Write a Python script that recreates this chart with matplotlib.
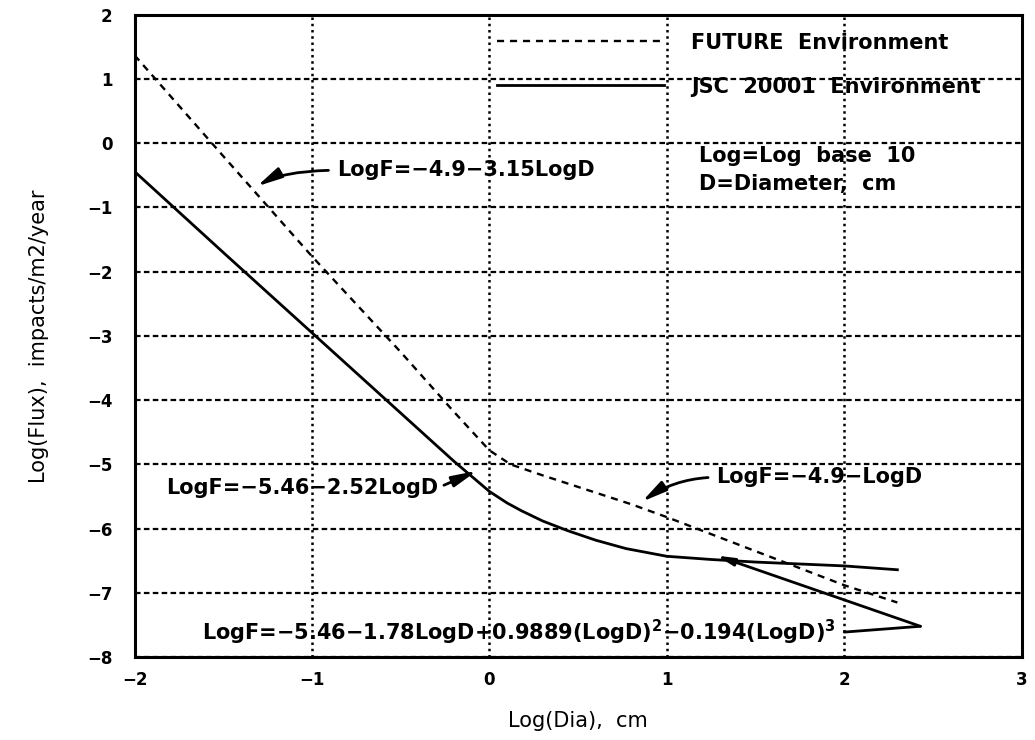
import matplotlib
matplotlib.use("Agg")
import matplotlib.pyplot as plt

plt.rcParams['font.family'] = ['DejaVu Sans']
plt.rcParams['mathtext.default'] = 'bf'

# ----- debris flux curves, log10 scale -----
dia_future = [-2.0, -1.5, -1.0, -0.5, -0.2, 0.0, 0.12, 0.3, 0.8, 1.0, 1.5, 2.0, 2.3]
flux_future = [1.37, -0.2, -1.76, -3.25, -4.18, -4.78, -5.0, -5.17, -5.62, -5.82, -6.35, -6.88, -7.15]

dia_jsc = [-2.0, -1.5, -1.0, -0.5, -0.2, 0.0, 0.1, 0.18, 0.3, 0.44, 0.6, 0.77, 1.0, 1.25, 1.5, 2.0, 2.3]
flux_jsc = [-0.44, -1.7, -2.95, -4.2, -4.95, -5.42, -5.6, -5.72, -5.88, -6.03, -6.18, -6.31, -6.43, -6.48, -6.52, -6.58, -6.64]

x_ticks = [-2, -1, 0, 1, 2, 3]
y_ticks = [2, 1, 0, -1, -2, -3, -4, -5, -6, -7, -8]

fig = plt.figure(figsize=(10.35, 7.4), dpi=100)
ax = fig.add_axes([0.130, 0.112, 0.857, 0.868])

ax.plot(dia_future, flux_future, color='black', lw=1.7, dashes=(3, 2.5),
        label='FUTURE  Environment')
ax.plot(dia_jsc, flux_jsc, color='black', lw=2.0, label='JSC  20001  Environment')

ax.set_xlim(-2, 3)
ax.set_ylim(-8, 2)
ax.set_xticks(x_ticks)
ax.set_yticks(y_ticks)
ax.tick_params(length=0, labelsize=12)
ax.tick_params(axis='x', pad=10)
ax.tick_params(axis='y', pad=16)
for lab in ax.get_xticklabels() + ax.get_yticklabels():
    lab.set_fontweight('bold')

ax.xaxis.grid(True, color='black', lw=1.8, linestyle=(0, (1, 1.5)))
ax.yaxis.grid(True, color='black', lw=1.6, linestyle=(0, (2.5, 1.5)))
for s in ax.spines.values():
    s.set_linewidth(2.2)

ax.set_xlabel('Log(Dia),  cm', fontsize=15, labelpad=16)
ax.set_ylabel('Log(Flux),  impacts/m2/year', fontsize=15, labelpad=27)

leg = ax.legend(loc='upper left', bbox_to_anchor=(0.409, 0.972), frameon=False,
                handlelength=8.0, handletextpad=1.3, labelspacing=1.15,
                borderpad=0, borderaxespad=0, prop={'size': 15, 'weight': 'bold'})

tfont = dict(fontsize=15, fontweight='bold')
head = '-|>,head_length=1.0,head_width=0.22'

ax.text(1.18, -0.2, 'Log=Log  base  10', va='center', ha='left', **tfont)
ax.text(1.18, -0.63, 'D=Diameter,  cm', va='center', ha='left', **tfont)

ax.annotate('LogF=\u22124.9\u22123.15LogD', xy=(-1.31, -0.67), xytext=(-0.86, -0.42),
            va='center', ha='left', **tfont,
            arrowprops=dict(arrowstyle=head, color='black', lw=2, relpos=(0, 0.5),
                            shrinkA=4, shrinkB=0,
                            connectionstyle='angle3,angleA=0,angleB=30'))

ax.annotate('LogF=\u22125.46\u22122.52LogD', xy=(-0.07, -5.1), xytext=(-1.82, -5.36),
            va='center', ha='left', **tfont,
            arrowprops=dict(arrowstyle=head, color='black', lw=2, relpos=(1, 0.5),
                            shrinkA=2, shrinkB=0))

ax.annotate('LogF=\u22124.9\u2212LogD', xy=(0.86, -5.58), xytext=(1.28, -5.2),
            va='center', ha='left', **tfont,
            arrowprops=dict(arrowstyle=head, color='black', lw=2, relpos=(0, 0.5),
                            shrinkA=4, shrinkB=0,
                            connectionstyle='angle3,angleA=0,angleB=35'))

ax.annotate('LogF=\u22125.46\u22121.78LogD+0.9889(LogD)$^2$\u22120.194(LogD)$^3$',
            xy=(2.43, -7.52), xytext=(-1.62, -7.62), va='center', ha='left', **tfont,
            arrowprops=dict(arrowstyle='-', color='black', lw=2, relpos=(1, 0.5),
                            shrinkA=4, shrinkB=0))
ax.annotate('', xy=(1.28, -6.42), xytext=(2.43, -7.52),
            arrowprops=dict(arrowstyle=head, color='black', lw=2, shrinkA=0, shrinkB=0))

fig.savefig('out.png', dpi=100)
